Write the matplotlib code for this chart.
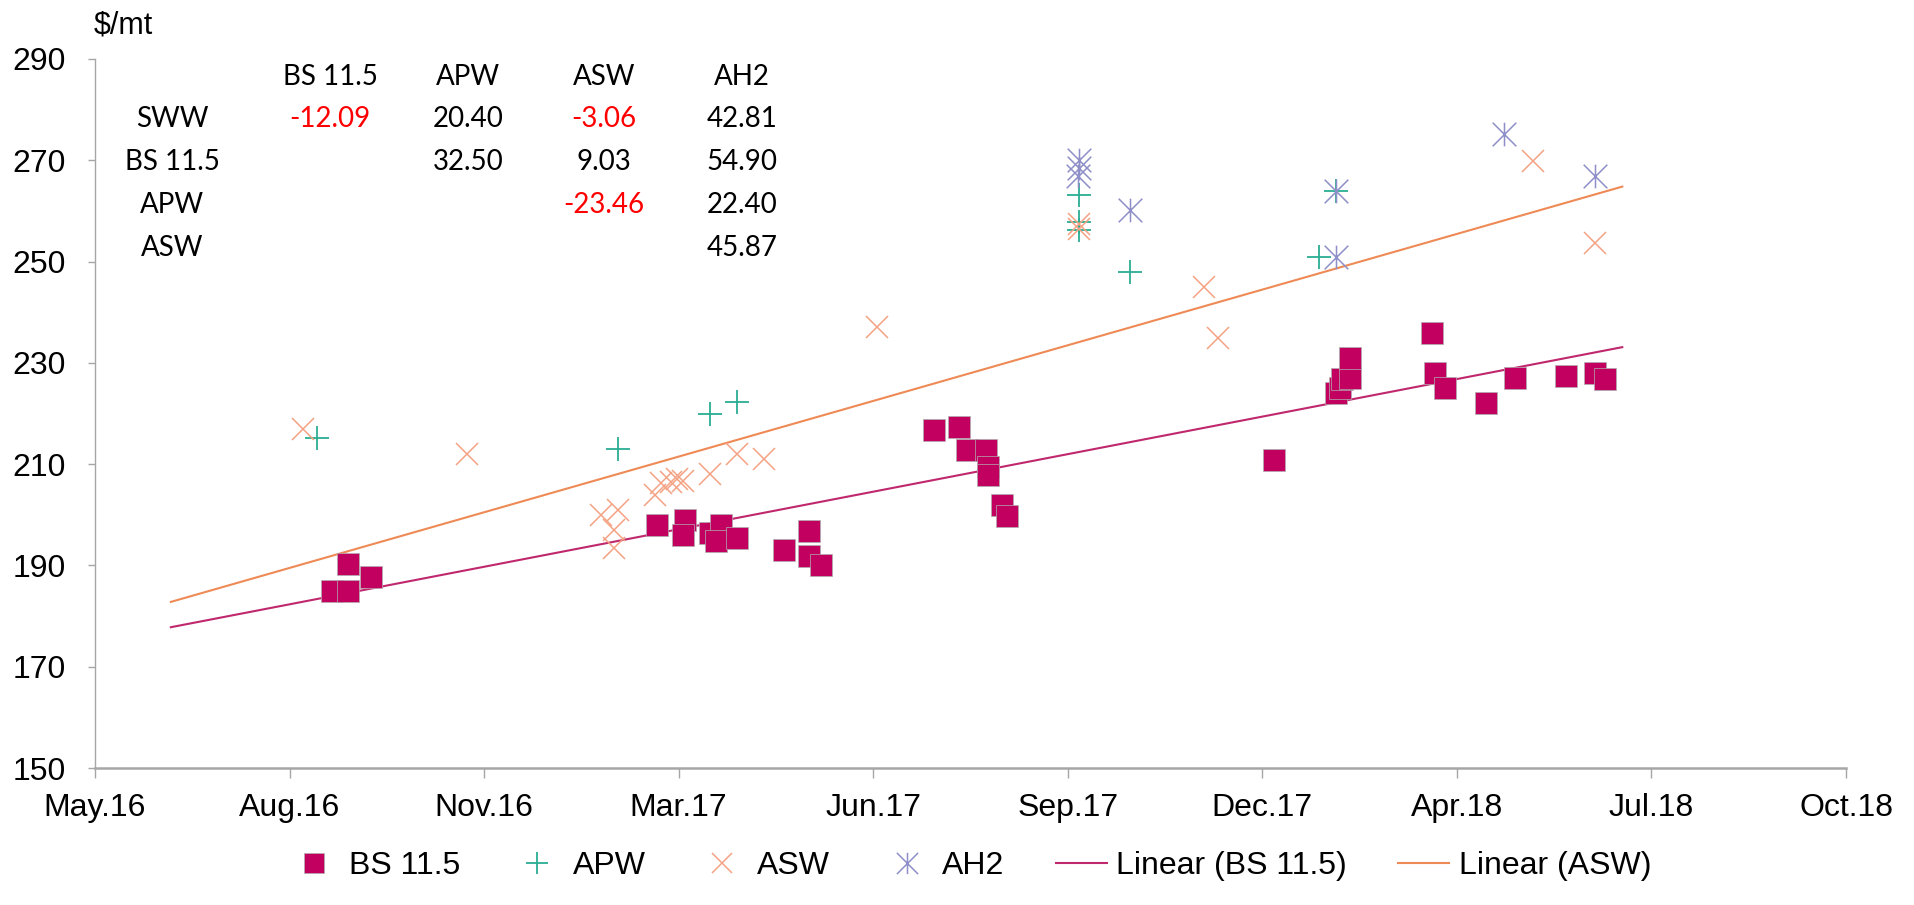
import matplotlib
matplotlib.use("Agg")
import matplotlib.pyplot as plt
import matplotlib.dates as mdates
from matplotlib.path import Path
import numpy as np

# ---------------- data (x = Excel date serials, y = $/mt) ----------------
bs_dates = [42622, 42630, 42630, 42642, 42789, 42803, 42802, 42816, 42822, 42819,
            42830, 42854, 42867, 42867, 42873, 42931, 42944, 42948, 42958, 42959,
            42959, 42966, 42969, 43106, 43138, 43140, 43141, 43145, 43145, 43187,
            43189, 43194, 43215, 43230, 43256, 43271, 43276]
bs_vals = [184.9, 184.9, 190.2, 187.8, 198.0, 199.0, 196.0, 196.5, 198.0, 194.9,
           195.5, 193.0, 196.8, 191.9, 190.1, 216.8, 217.4, 212.8, 212.8, 209.5,
           207.9, 202.0, 199.8, 210.9, 224.0, 225.0, 226.8, 227.0, 231.0, 235.9,
           228.0, 225.0, 222.0, 227.0, 227.5, 228.0, 226.9]

apw_dates = [42614, 42769, 42816, 42830, 43006, 43006, 43006, 43032, 43129, 43138]
apw_vals = [215.1, 213.0, 220.0, 222.2, 263.1, 257.9, 256.2, 248.0, 250.9, 263.9]

asw_dates = [42607, 42691, 42760, 42769, 42767, 42767, 42788, 42791, 42796, 42799,
             42802, 42816, 42830, 42844, 42902, 43006, 43006, 43070, 43077, 43239,
             43271]
asw_vals = [216.9, 212.1, 200.0, 200.9, 197.0, 193.4, 204.0, 206.2, 206.5, 207.0,
            206.7, 208.0, 212.1, 211.0, 237.1, 257.5, 256.5, 245.0, 235.0, 269.9,
            253.6]

ah2_dates = [43006, 43006, 43005, 43032, 43138, 43138, 43224, 43271]
ah2_vals = [270.0, 268.4, 266.9, 260.2, 263.9, 250.9, 275.1, 266.9]

trend_dates = [42539, 43285]
bs_trend = [177.8, 233.1]
asw_trend = [182.8, 264.8]

x_tick_serials = [42500, 42600, 42700, 42800, 42900, 43000, 43100, 43200, 43300, 43400]
y_ticks = [150, 170, 190, 210, 230, 250, 270, 290]

table_cols = ["BS 11.5", "APW", "ASW", "AH2"]
table_rows = ["SWW", "BS 11.5", "APW", "ASW"]
table_vals = [[-12.09, 20.40, -3.06, 42.81],
              [None, 32.50, 9.03, 54.90],
              [None, None, -23.46, 22.40],
              [None, None, None, 45.87]]

# ---------------- helpers ----------------
EXCEL_TO_MPL = 25569  # Excel serial of 1970-01-01


def conv(serials):
    return np.asarray(serials, dtype=float) - EXCEL_TO_MPL


W, H = 1914, 905
fig = plt.figure(figsize=(W / 100, H / 100), dpi=100)
ax = fig.add_axes([95 / W, 1 - 768 / H, (1846 - 95) / W, (768 - 59) / H])

FONT = "Liberation Sans"
TFONT = ["Lato", "DejaVu Sans"]

c_bs = "#C2005F"
c_apw = "#2AAE92"
c_asw = "#F4A283"
c_ah2 = "#8E8EC8"
c_bs_tr = "#C0286E"
c_asw_tr = "#EE8A55"

asterisk = Path([(0, -1), (0, 1), (-1, -1), (1, 1), (-1, 1), (1, -1)],
                [Path.MOVETO, Path.LINETO, Path.MOVETO, Path.LINETO,
                 Path.MOVETO, Path.LINETO])

# trend lines (below markers)
ax.plot(conv(trend_dates), bs_trend, color=c_bs_tr, lw=1.5, zorder=2,
        label="Linear (BS 11.5)")
ax.plot(conv(trend_dates), asw_trend, color=c_asw_tr, lw=1.5, zorder=2,
        label="Linear (ASW)")

h_bs, = ax.plot(conv(bs_dates), bs_vals, ls="none", marker="s", ms=15.5,
                mfc=c_bs, mec="#B0B0B0", mew=0.5, zorder=3, label="BS 11.5")
h_apw, = ax.plot(conv(apw_dates), apw_vals, ls="none", marker="+", ms=17,
                 mec=c_apw, mew=1.3, zorder=4, label="APW")
h_asw, = ax.plot(conv(asw_dates), asw_vals, ls="none", marker="x", ms=16,
                 mec=c_asw, mew=1.1, zorder=4, label="ASW")
h_ah2, = ax.plot(conv(ah2_dates), ah2_vals, ls="none", marker=asterisk, ms=17,
                 mfc="none", mec=c_ah2, mew=1.1, zorder=4, label="AH2")

# axes
ax.set_xlim(conv([x_tick_serials[0]])[0], conv([x_tick_serials[-1]])[0])
ax.set_ylim(150, 290)
ax.set_xticks(conv(x_tick_serials))
ax.xaxis.set_major_formatter(mdates.DateFormatter("%b.%y"))
ax.set_yticks(y_ticks)

for s in ("top", "right"):
    ax.spines[s].set_visible(False)
ax.spines["left"].set_color("#A6A6A6")
ax.spines["left"].set_linewidth(1.0)
ax.spines["bottom"].set_color("#A6A6A6")
ax.spines["bottom"].set_linewidth(1.8)
ax.tick_params(axis="y", direction="out", length=5, width=1.0, color="#A6A6A6",
               pad=16, labelsize=23, labelcolor="#000000")
ax.tick_params(axis="x", direction="out", length=7, width=1.0, color="#A6A6A6",
               pad=11, labelsize=23, labelcolor="#000000")
for lab in ax.get_xticklabels() + ax.get_yticklabels():
    lab.set_fontfamily(FONT)

fig.text(94 / W, 1 - 25 / H, "$/mt", ha="left", va="center", fontsize=22,
         family=FONT)

# correlation table
col_x = [330, 468, 604, 742]
row_label_x = 172
header_y = 77
row_y = [119, 162, 205, 248]
for cx, name in zip(col_x, table_cols):
    fig.text(cx / W, 1 - header_y / H, name, ha="center", va="center",
             fontsize=20, family=TFONT)
for ry, rname, vals in zip(row_y, table_rows, table_vals):
    fig.text(row_label_x / W, 1 - ry / H, rname, ha="center", va="center",
             fontsize=20, family=TFONT)
    for cx, v in zip(col_x, vals):
        if v is None:
            continue
        fig.text(cx / W, 1 - ry / H, f"{v:.2f}", ha="center", va="center",
                 fontsize=20, family=TFONT,
                 color="#FF0000" if v < 0 else "#000000")

# legend
handles = [h_bs, h_apw, h_asw, h_ah2] + ax.get_lines()[:2]
labels = [h.get_label() for h in handles]
leg = fig.legend(handles, labels, loc="center", bbox_to_anchor=(970 / W, 1 - 866 / H),
                 ncol=6, frameon=False, prop={"family": FONT, "size": 23},
                 handlelength=1.6, handletextpad=0.3, columnspacing=1.6,
                 markerscale=0.9)

fig.savefig("out.png", dpi=100)
